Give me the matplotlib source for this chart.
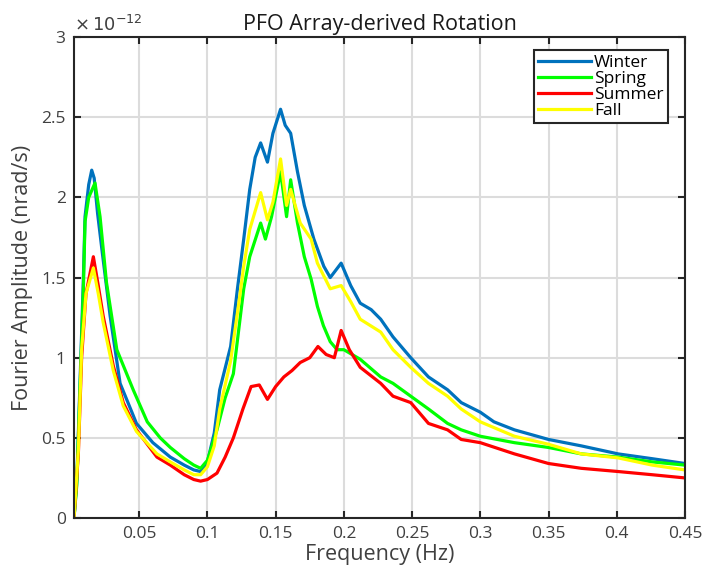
import matplotlib
matplotlib.use('Agg')
import matplotlib.pyplot as plt

# values in units of 1e-12 nrad/s
f_winter = [0.0022, 0.0042, 0.0066, 0.009, 0.0103, 0.013, 0.0152, 0.017, 0.0195, 0.0226,
            0.0287, 0.036, 0.048, 0.06, 0.0728, 0.083, 0.09, 0.095, 0.1, 0.105,
            0.109, 0.117, 0.122, 0.1266, 0.131, 0.135, 0.139, 0.144, 0.148, 0.1536,
            0.157, 0.161, 0.166, 0.171, 0.178, 0.1853, 0.19, 0.198, 0.205, 0.212,
            0.22, 0.227, 0.236, 0.249, 0.262, 0.276, 0.286, 0.3, 0.31, 0.325,
            0.35, 0.374, 0.401, 0.426, 0.45]
winter = [0, 0.22, 0.84, 1.47, 1.88, 2.08, 2.17, 2.12, 1.9, 1.68,
          1.26, 0.84, 0.59, 0.47, 0.38, 0.33, 0.3, 0.29, 0.35, 0.53,
          0.8, 1.07, 1.43, 1.74, 2.05, 2.25, 2.34, 2.22, 2.4, 2.55,
          2.45, 2.4, 2.16, 1.95, 1.74, 1.57, 1.5, 1.59, 1.45, 1.34,
          1.3, 1.24, 1.13, 1.0, 0.88, 0.8, 0.72, 0.66, 0.6, 0.55,
          0.49, 0.45, 0.4, 0.37, 0.34]

f_spring = [0.0022, 0.0042, 0.0066, 0.009, 0.0103, 0.013, 0.0176, 0.0213, 0.026, 0.0336,
            0.0456, 0.0559, 0.0654, 0.0728, 0.083, 0.09, 0.095, 0.1, 0.107, 0.113,
            0.119, 0.1266, 0.131, 0.139, 0.1425, 0.147, 0.1536, 0.158, 0.161, 0.166,
            0.171, 0.176, 0.1806, 0.185, 0.19, 0.195, 0.2, 0.212, 0.227, 0.236,
            0.249, 0.262, 0.276, 0.286, 0.3, 0.325, 0.35, 0.374, 0.401, 0.426, 0.45]
spring = [0, 0.2, 0.8, 1.4, 1.85, 2.0, 2.09, 1.88, 1.47, 1.05,
          0.8, 0.6, 0.5, 0.44, 0.37, 0.33, 0.31, 0.36, 0.55, 0.75,
          0.9, 1.43, 1.63, 1.84, 1.74, 1.88, 2.16, 1.88, 2.11, 1.84,
          1.63, 1.49, 1.32, 1.2, 1.1, 1.05, 1.05, 0.99, 0.88, 0.84,
          0.76, 0.68, 0.59, 0.55, 0.51, 0.47, 0.44, 0.4, 0.38, 0.35, 0.33]

f_summer = [0.0022, 0.0054, 0.0078, 0.011, 0.0164, 0.02, 0.0236, 0.031, 0.0383, 0.048,
            0.063, 0.0728, 0.083, 0.09, 0.095, 0.1, 0.107, 0.113, 0.119, 0.126,
            0.132, 0.138, 0.144, 0.15, 0.156, 0.162, 0.168, 0.175, 0.181, 0.187,
            0.193, 0.198, 0.204, 0.212, 0.227, 0.236, 0.249, 0.262, 0.276, 0.286,
            0.3, 0.325, 0.35, 0.374, 0.401, 0.426, 0.45]
summer = [0, 0.4, 1.0, 1.4, 1.63, 1.45, 1.26, 0.95, 0.72, 0.55,
          0.38, 0.33, 0.27, 0.24, 0.23, 0.24, 0.28, 0.38, 0.5, 0.68,
          0.82, 0.83, 0.74, 0.82, 0.88, 0.92, 0.97, 1.0, 1.07, 1.02,
          1.0, 1.17, 1.05, 0.94, 0.84, 0.76, 0.72, 0.59, 0.55, 0.49,
          0.47, 0.4, 0.34, 0.31, 0.29, 0.27, 0.25]

f_fall = [0.0022, 0.0054, 0.0078, 0.011, 0.0164, 0.02, 0.0236, 0.031, 0.0383, 0.048,
          0.063, 0.0728, 0.083, 0.09, 0.095, 0.1, 0.105, 0.109, 0.117, 0.123,
          0.1266, 0.131, 0.139, 0.144, 0.148, 0.1536, 0.158, 0.161, 0.168, 0.176,
          0.1806, 0.19, 0.198, 0.205, 0.212, 0.227, 0.236, 0.249, 0.262, 0.276,
          0.286, 0.3, 0.325, 0.35, 0.374, 0.401, 0.426, 0.45]
fall = [0, 0.42, 1.05, 1.4, 1.56, 1.4, 1.22, 0.92, 0.7, 0.54,
        0.4, 0.35, 0.3, 0.27, 0.27, 0.32, 0.45, 0.68, 0.98, 1.34,
        1.57, 1.8, 2.03, 1.86, 1.97, 2.24, 1.95, 2.05, 1.84, 1.74,
        1.59, 1.43, 1.45, 1.35, 1.24, 1.16, 1.05, 0.94, 0.84, 0.76,
        0.68, 0.6, 0.51, 0.46, 0.4, 0.375, 0.33, 0.3]

x_ticks = [0.05, 0.1, 0.15, 0.2, 0.25, 0.3, 0.35, 0.4, 0.45]
x_labels = ['0.05', '0.1', '0.15', '0.2', '0.25', '0.3', '0.35', '0.4', '0.45']
y_ticks = [0, 0.5, 1, 1.5, 2, 2.5, 3]
y_labels = ['0', '0.5', '1', '1.5', '2', '2.5', '3']

plt.rcParams['font.family'] = ['Open Sans', 'DejaVu Sans']

fig = plt.figure(figsize=(7.19, 5.71), dpi=100)
ax = fig.add_axes([0.1029, 0.0928, 0.8498, 0.8422])

ax.plot(f_winter, winter, color='#0072BD', lw=2.3, label='Winter')
ax.plot(f_spring, spring, color='#00FF00', lw=2.3, label='Spring')
ax.plot(f_summer, summer, color='#FF0000', lw=2.3, label='Summer')
ax.plot(f_fall, fall, color='#FFFF00', lw=2.3, label='Fall')

ax.set_xlim(0.0022, 0.45)
ax.set_ylim(0, 3)
ax.set_xticks(x_ticks)
ax.set_xticklabels(x_labels)
ax.set_yticks(y_ticks)
ax.set_yticklabels(y_labels)
ax.grid(True, color='#dcdcdc', lw=1.5)
ax.set_axisbelow(True)
ax.tick_params(direction='in', length=5, width=1.5, top=True, right=True,
               labelsize=12.5, colors='#262626', labelcolor='#404040', pad=6)
for s in ax.spines.values():
    s.set_linewidth(1.5)
    s.set_color('#262626')

ax.set_xlabel('Frequency (Hz)', fontsize=15.5, color='#404040', labelpad=1)
ax.set_ylabel('Fourier Amplitude (nrad/s)', fontsize=15.5, color='#404040', labelpad=6)
ax.set_title('PFO Array-derived Rotation', fontsize=15.5, color='#1a1a1a', pad=5)
ax.text(0.0, 1.005, r'$\times\,10^{-12}$', transform=ax.transAxes, fontsize=13,
        color='#404040', ha='left', va='bottom')

leg = ax.legend(loc='upper right', bbox_to_anchor=(0.972, 0.973), fontsize=12.5,
                fancybox=False, framealpha=1, edgecolor='#262626',
                handlelength=3.0, handletextpad=0.2, borderpad=0.25,
                labelspacing=0.0, borderaxespad=0)
leg.get_frame().set_linewidth(1.5)

fig.savefig('out.png', dpi=100)
